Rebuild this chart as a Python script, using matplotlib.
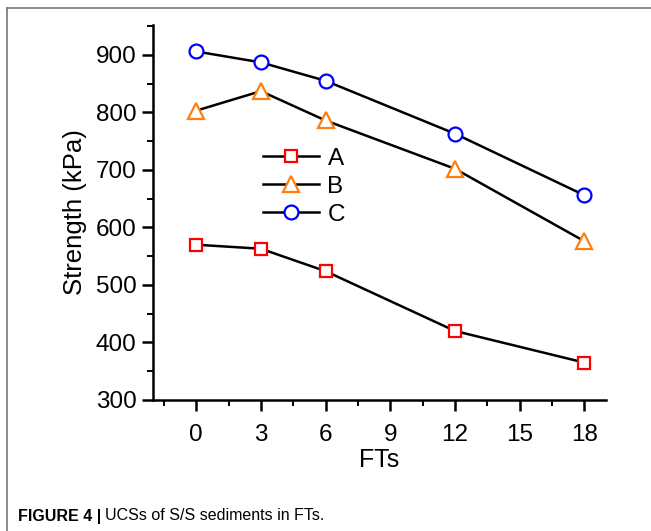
import matplotlib.pyplot as plt
from matplotlib.lines import Line2D
from matplotlib.ticker import MultipleLocator

plt.rcParams['font.family'] = ['Liberation Sans', 'DejaVu Sans']

# FT cycles and strengths (kPa)
fts = [0, 3, 6, 12, 18]
strength_a = [570, 563, 524, 420, 365]
strength_b = [803, 837, 786, 702, 576]
strength_c = [906, 887, 855, 763, 656]
labels = ['A', 'B', 'C']

fig = plt.figure(figsize=(6.51, 5.31), dpi=100)
ax = fig.add_axes([153 / 651, 1 - 400 / 531, (606 - 153) / 651, (400 - 25) / 531])

ax.plot(fts, strength_a, color='black', lw=1.8, marker='s', ms=9, mfc='white',
        mec='red', mew=1.6, label=labels[0])
ax.plot(fts, strength_b, color='black', lw=1.8, marker='^', ms=12, mfc='white',
        mec='#ff7f0e', mew=1.6, label=labels[1])
ax.plot(fts, strength_c, color='black', lw=1.8, marker='o', ms=10, mfc='white',
        mec='blue', mew=1.6, label=labels[2])

ax.set_xlim(-2, 19)
ax.set_ylim(300, 952)
ax.xaxis.set_major_locator(MultipleLocator(3))
ax.xaxis.set_minor_locator(MultipleLocator(1.5))
ax.yaxis.set_major_locator(MultipleLocator(100))
ax.yaxis.set_minor_locator(MultipleLocator(50))

for s in ['top', 'right']:
    ax.spines[s].set_visible(False)
for s in ['left', 'bottom']:
    ax.spines[s].set_linewidth(1.8)
ax.tick_params(which='major', direction='out', length=8, width=1.8, labelsize=17.5, pad=4)
ax.tick_params(axis='x', which='major', pad=9.5)
ax.tick_params(which='minor', direction='out', length=4, width=1.4)

ax.set_xlabel('FTs', fontsize=18, labelpad=1)
ax.set_ylabel('Strength (kPa)', fontsize=18.5, labelpad=6)

ax.legend(loc='upper left', bbox_to_anchor=(0.243, 0.673), frameon=False,
          fontsize=17.5, handlelength=2.3, handletextpad=0.35, labelspacing=0.25,
          borderpad=0, borderaxespad=0)

# page border (top and left) and caption
fig.add_artist(Line2D([7 / 651, 1], [1 - 8 / 531, 1 - 8 / 531], color='#777777', lw=1.2))
fig.add_artist(Line2D([7 / 651, 7 / 651], [0, 1 - 8 / 531], color='#777777', lw=1.2))
t1 = fig.text(18 / 651, 1 - 516 / 531, 'FIGURE 4 |', fontsize=11.5, fontweight='bold',
              va='center')
fig.canvas.draw()
bb = t1.get_window_extent()
fig.text((bb.x1 + 4) / 651, 1 - 516 / 531, 'UCSs of S/S sediments in FTs.',
         fontsize=11.5, va='center')

fig.savefig('out.png', dpi=100)
